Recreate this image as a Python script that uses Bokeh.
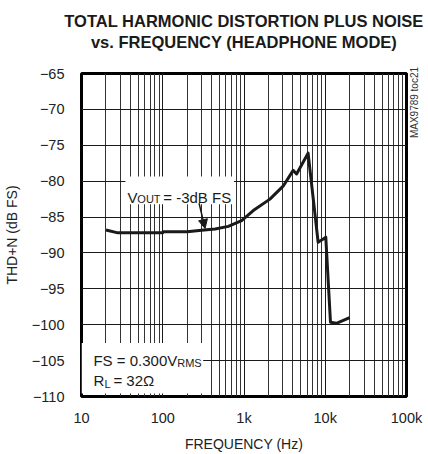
from bokeh.plotting import figure
from bokeh.models import (FixedTicker, Label, BoxAnnotation, Arrow, NormalHead,
                          LinearAxis, LogAxis)
from bokeh.embed import file_html
from bokeh.resources import INLINE
import math

# ---------------- data ----------------
freq_hz = [20, 28, 40, 60, 100, 101, 200, 300, 441, 641, 935, 1300, 2085,
           3030, 4030, 4440, 6150, 8170, 9660, 10150, 11600, 13700, 20000]
thdn_db = [-86.8, -87.2, -87.2, -87.2, -87.2, -87.05, -87.05, -86.85, -86.67, -86.3,
           -85.5, -84.1, -82.5, -80.7, -78.5, -79.0, -76.1, -88.5, -88.0,
           -87.8, -99.65, -99.8, -99.0]

x_ticks = [10, 100, 1000, 10000, 100000]
x_tick_labels = ["10", "100", "1k", "10k", "100k"]
x_minor = [m * d for d in [10, 100, 1000, 10000] for m in range(2, 10)]
y_ticks = list(range(-110, -64, 5))

title_lines = ["TOTAL HARMONIC DISTORTION PLUS NOISE",
               "vs. FREQUENCY (HEADPHONE MODE)"]
x_label = "FREQUENCY (Hz)"
y_label = "THD+N (dB FS)"
code_label = "MAX9789 toc21"
code_pos = -74

FONT = "Liberation Sans"
INK = "#1a1a1a"

p = figure(width=428, height=454, x_axis_type="log",
           x_range=(10, 100000), y_range=(-110, -65),
           output_backend="svg", toolbar_location=None,
           title=title_lines[0],
           min_border_left=81, min_border_right=21,
           min_border_top=73, min_border_bottom=55)

xax = p.below[0]
yax = p.left[0]

# title line 1 (outer)
p.title.align = "center"
p.title.text_font = FONT
p.title.text_font_size = "16.5px"
p.title.text_font_style = "bold"
p.title.text_color = INK
p.title.standoff = 0

# title line 2: label of a tick-less axis above the frame
title_axis = LogAxis(ticker=FixedTicker(ticks=[]), axis_label=title_lines[1],
                     axis_label_standoff=23, axis_label_text_font=FONT,
                     axis_label_text_font_size="16.5px",
                     axis_label_text_font_style="bold",
                     axis_label_text_color=INK,
                     axis_line_color=None, major_tick_line_color=None,
                     minor_tick_line_color=None, major_tick_out=0,
                     minor_tick_out=0, major_label_standoff=0)
p.add_layout(title_axis, "above")

p.outline_line_color = "black"
p.outline_line_width = 3
p.background_fill_color = "white"
p.border_fill_color = "white"

# axes
xax.ticker = FixedTicker(ticks=x_ticks, minor_ticks=x_minor)
xax.major_label_overrides = {v: s for v, s in zip(x_ticks, x_tick_labels)}
yax.ticker = FixedTicker(ticks=y_ticks)
for ax in (xax, yax):
    ax.axis_line_color = None
    ax.major_tick_line_color = None
    ax.minor_tick_line_color = None
    ax.major_tick_out = 0
    ax.minor_tick_out = 0
    ax.major_label_text_font = FONT
    ax.major_label_text_font_size = "14.5px"
    ax.major_label_text_color = "#222222"
    ax.axis_label_text_font = FONT
    ax.axis_label_text_font_size = "14px"
    ax.axis_label_text_font_style = "normal"
    ax.axis_label_text_color = "#222222"
xax.axis_label = x_label
yax.axis_label = y_label
xax.major_label_standoff = 13
xax.axis_label_standoff = 7
yax.major_label_standoff = 17
yax.axis_label_standoff = 9

# small figure code on the right, reading upward
code_axis = LinearAxis(ticker=FixedTicker(ticks=[code_pos]),
                       major_label_overrides={code_pos: code_label},
                       major_label_orientation=math.pi / 2,
                       major_label_standoff=8,
                       major_label_text_font=FONT,
                       major_label_text_font_size="10px",
                       major_label_text_color="#333333",
                       axis_line_color=None, major_tick_line_color=None,
                       minor_tick_line_color=None, major_tick_out=0, minor_tick_out=0)
p.add_layout(code_axis, "right")

# grid
p.xgrid.grid_line_color = INK
p.xgrid.grid_line_width = 1
p.xgrid.minor_grid_line_color = "#333333"
p.xgrid.minor_grid_line_width = 1
p.ygrid.grid_line_color = INK
p.ygrid.grid_line_width = 1.2

# curve
p.line(freq_hz, thdn_db, line_color=INK, line_width=3, line_join="round")

# annotation boxes (white backgrounds)
p.add_layout(BoxAnnotation(left=34.7, right=753, top=-79.36, bottom=-83.22,
                           fill_color="white", fill_alpha=1, line_color=None))
p.add_layout(BoxAnnotation(left=10, right=314, top=-102.55, bottom=-109.59,
                           fill_color="white", fill_alpha=1, line_color=None))

def lab(x, y, text, size):
    p.add_layout(Label(x=x, y=y, text=text, text_font=FONT,
                       text_font_size=size, text_align="left",
                       text_baseline="alphabetic", text_color=INK))

# V_OUT annotation
lab(36.7, -82.26, "V", "15px")
lab(48.7, -82.53, "OUT", "11px")
lab(101.4, -82.26, "= -3dB FS", "15px")
p.add_layout(Arrow(x_start=280, y_start=-83.08, x_end=332, y_end=-86.6,
                   line_color=INK, line_width=1.5,
                   end=NormalHead(size=9, fill_color=INK, line_color=INK)))

# FS / RL annotation
lab(14.03, -105.03, "FS = 0.300V", "15px")
lab(150.6, -105.38, "RMS", "11px")
lab(14.03, -107.79, "R", "15px")
lab(19.15, -108.21, "L", "11px")
lab(24.7, -107.79, "= 32\u03a9", "15px")

open("out.html", "w").write(file_html(p, INLINE))
